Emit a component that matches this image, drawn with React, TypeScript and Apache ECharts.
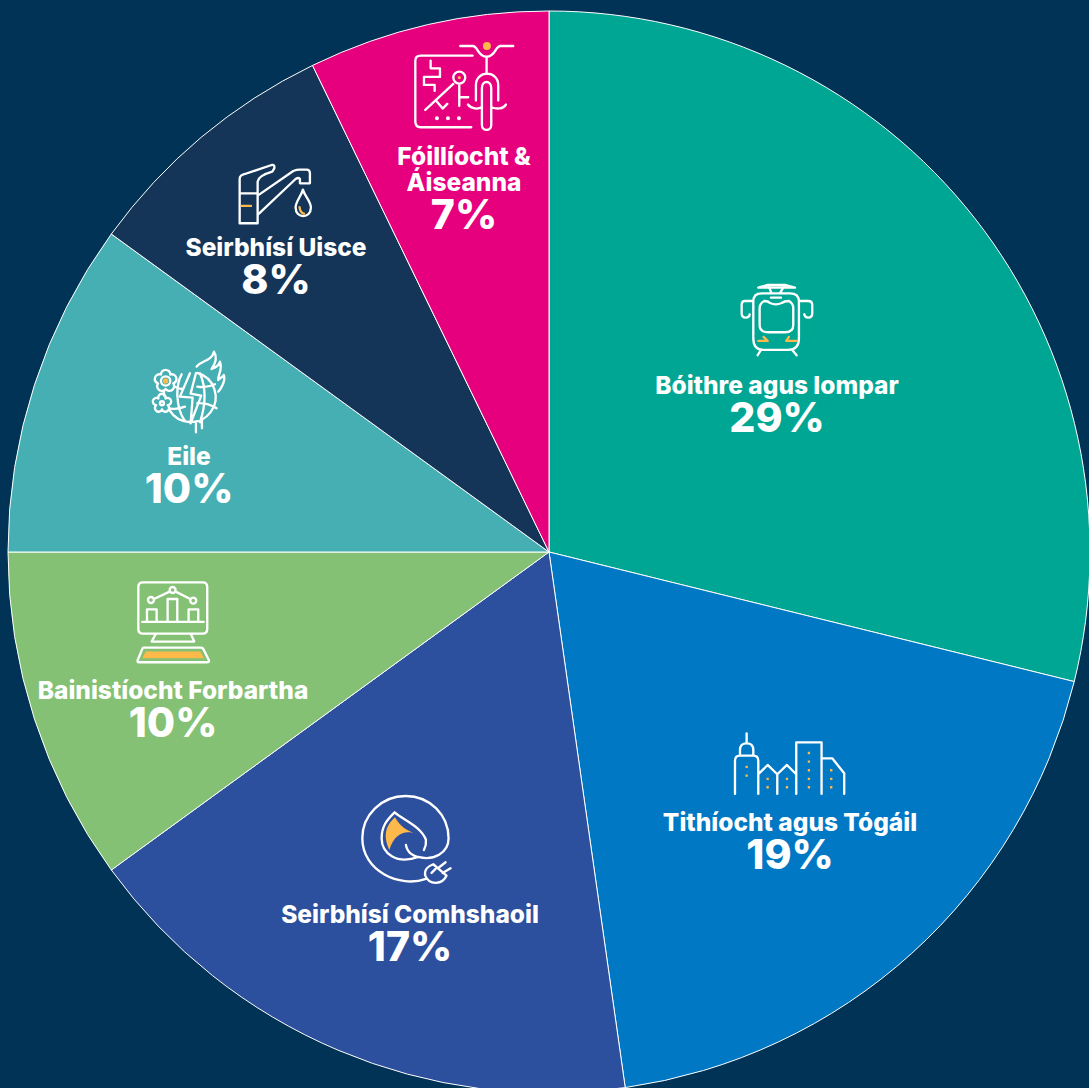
import React, { useEffect, useRef } from "react";
import * as echarts from "echarts";

const categories = [
  "Bóithre agus Iompar",
  "Tithíocht agus Tógáil",
  "Seirbhísí Comhshaoil",
  "Bainistíocht Forbartha",
  "Eile",
  "Seirbhísí Uisce",
  "Fóillíocht &\nÁiseanna",
];
const shares = [28.85, 18.9, 17.25, 10, 10, 7.8, 7.2];
const sliceColors = ["#00a694", "#0078c4", "#2c4f9e", "#84c174", "#45afb4", "#143558", "#e6007e"];
const labelCentres = [
  [777, 404],
  [790, 841],
  [410, 933],
  [173, 709],
  [189, 475],
  [276, 266],
  [464, 188],
];

const WHITE = "#ffffff";
const ORANGE = "#fdb94a";

function flower(cx: number, cy: number, R: number, r: number) {
  let d = "";
  for (let i = 0; i <= 5; i++) {
    const a = -Math.PI / 2 + Math.PI / 5 + (i * 2 * Math.PI) / 5;
    const x = (cx + R * Math.cos(a)).toFixed(1);
    const y = (cy + R * Math.sin(a)).toFixed(1);
    d += i === 0 ? `M${x} ${y}` : ` A${r} ${r} 0 1 1 ${x} ${y}`;
  }
  return d;
}
function dot(cx: number, cy: number, r: number) {
  return `M${cx - r} ${cy} A${r} ${r} 0 1 1 ${cx + r} ${cy} A${r} ${r} 0 1 1 ${cx - r} ${cy} Z`;
}
function square(cx: number, cy: number, s: number) {
  return `M${cx - s} ${cy - s} H${cx + s} V${cy + s} H${cx - s} Z`;
}

// Each icon: drawn in 3x local coordinates, placed at an offset
const icons = [
  {
    name: "bike", x: 400, y: 30,
    line:
      "M218 77 H62 Q46 77 46 93 V275 Q46 292 62 292 H214 " +
      "M92 92 V115 H120 V141 H72 V165 H104 V183 M76 240 L160 162 M108 212 L128 236 L142 222 " +
      dot(178, 143, 18) + " M178 162 V228 M178 202 H205 " +
      "M181 48 H218 C235 48 232 80 260 80 C288 80 285 48 302 48 H340 M260 80 V132 " +
      "M228 212 V165 C228 120 295 120 295 165 V212 " +
      "M246 175 C246 150 274 150 274 175 V285 C274 305 246 305 246 285 Z " +
      "M204 224 C215 238 235 238 245 232 M275 232 C290 238 310 238 318 224",
    whiteFill: dot(111, 265, 6) + dot(144, 265, 6) + dot(177, 265, 6),
    orangeFill: dot(261, 48, 12) + dot(178, 143, 5),
  },
  {
    name: "tap", x: 225, y: 155,
    line:
      "M44 72 C44 62 50 60 60 57 L140 30 Q150 28 148 40 L142 50 Q100 62 98 80 V205 H44 Z M44 115 H98 " +
      "M98 122 L205 48 Q215 44 225 44 H245 Q255 44 255 55 V85 H225 V72 Q222 66 212 72 L98 180 " +
      "M234 104 C228 125 212 140 212 158 C212 192 258 192 258 158 C258 140 240 125 234 104 Z",
    orangeLine: "M50 153 H78 M224 157 C225 168 230 174 237 176",
  },
  {
    name: "train", x: 725, y: 275,
    line:
      "M85 80 Q85 55 110 55 H195 Q222 55 222 80 V190 Q222 225 190 225 H115 Q85 225 85 190 Z " +
      "M104 100 Q104 85 118 78 Q130 78 135 84 Q153 92 170 84 Q178 78 192 78 Q205 85 205 100 V150 Q205 172 180 172 H130 Q104 172 104 150 Z " +
      "M138 68 H168 M100 38 H210 M128 30 H180 M100 38 L128 30 M210 38 L180 30 M130 32 L140 55 M178 32 L165 55 " +
      "M85 78 H60 Q50 78 50 90 V115 Q50 128 62 128 Q74 128 74 118 " +
      "M222 78 H250 Q262 78 262 90 V115 Q262 128 250 128 Q240 128 238 118 " +
      "M108 225 L98 241 M202 225 L215 241",
    orangeLine: "M116 186 L128 198 H100 M192 186 L184 198 H214",
  },
  {
    name: "globe", x: 140, y: 345,
    line:
      "M172 84 A75 75 0 1 1 88 195 M125 88 Q112 110 112 150 Q114 200 135 228 " +
      "M150 85 L120 155 L158 158 L152 235 L184 152 L152 146 L168 85 " +
      "M180 85 Q208 150 180 232 M172 125 Q200 130 225 118 M172 175 Q200 172 230 190 " +
      "M90 190 Q110 195 135 185 M105 125 Q120 135 130 130 M186 225 V250 M168 235 V262 " +
      "M170 65 C185 45 215 50 222 20 C235 40 222 62 215 72 C225 68 238 60 240 50 C250 75 232 90 235 105 C240 100 250 95 252 90 C258 110 240 135 235 140 " +
      flower(77, 108, 24, 14) + " " + dot(77, 108, 14) + " " +
      flower(66, 175, 18, 11) + " " + dot(66, 175, 6) + " M72 138 V152",
    orangeFill: dot(77, 108, 8),
  },
  {
    name: "monitor", x: 125, y: 575,
    line:
      "M54 22 H233 Q247 22 247 36 V162 Q247 176 233 176 H54 Q40 176 40 162 V36 Q40 22 54 22 Z M52 141 H236 " +
      "M66 141 V103 H95 V141 M128 141 V72 H157 V141 M191 141 V103 H220 V141 " +
      dot(78, 75, 9) + " " + dot(143, 45, 9) + " " + dot(205, 77, 9) + " M87 72 L134 50 M152 50 L196 72 " +
      "M92 178 L80 200 H208 L198 178 " +
      "M56 218 H228 Q234 218 236 224 L252 256 Q254 262 246 262 H42 Q36 262 38 256 L52 222 Q53 218 56 218 Z",
    orangeFill: "M62 230 H226 L238 250 H52 Z",
  },
  {
    name: "plug", x: 350, y: 785,
    line:
      "M228 282 C150 310 37 260 37 160 C37 90 95 33 167 33 C240 33 296 90 296 160 C296 205 250 228 205 216 " +
      "M205 216 C140 240 95 205 95 160 C95 125 110 105 134 82 C160 105 215 125 228 165 Q230 180 222 195 " +
      "M168 180 C172 205 190 212 205 217 " +
      "M250 238 L290 272 C278 300 238 302 226 272 C222 255 235 243 250 238 Z M264 250 L287 232 M278 264 L302 250 M245 264 L257 252",
    orangeFill: "M135 97 C150 125 175 140 200 147 C170 135 135 140 118 195 C110 175 92 135 135 97 Z",
  },
  {
    name: "city", x: 725, y: 725,
    line:
      "M65 25 V55 M45 90 V75 Q45 55 65 55 Q85 55 85 75 V90 M30 207 V108 Q30 92 45 92 H85 Q100 92 100 108 V207 " +
      "M100 148 L128 120 L157 148 L186 120 L214 148 M157 148 V207 M214 207 V52 H290 V207 M290 100 H322 L358 145 V207",
    orangeFill: [
      [65, 126], [65, 152], [128, 162], [128, 187], [186, 162], [186, 187],
      [252, 84], [252, 110], [252, 136], [252, 162], [252, 187], [319, 136], [319, 162], [319, 187],
    ].map(([a, b]) => square(a, b, 3.5)).join(" "),
  },
];

function iconGraphics() {
  const out: any[] = [];
  const layers: [string, any][] = [
    ["line", { fill: "none", stroke: WHITE, lineWidth: 7, lineJoin: "round", lineCap: "round" }],
    ["whiteFill", { fill: WHITE }],
    ["orangeFill", { fill: ORANGE }],
    ["orangeLine", { fill: "none", stroke: ORANGE, lineWidth: 7, lineJoin: "round", lineCap: "round" }],
  ];
  icons.forEach((ic: any) => {
    layers.forEach(([key, style]) => {
      if (!ic[key]) return;
      const shape = `${ic.name}-${key}`;
      echarts.graphic.registerShape(shape, echarts.graphic.extendPath(ic[key], {}));
      out.push({ type: shape, x: ic.x, y: ic.y, scaleX: 1 / 3, scaleY: 1 / 3, z: 20, silent: true, style });
    });
  });
  return out;
}

export default function App() {
  const ref = useRef<HTMLDivElement>(null);
  useEffect(() => {
    document.body.style.margin = "0";
    const chart = echarts.init(ref.current!, undefined, { renderer: "svg" });
    chart.setOption({
      animation: false,
      backgroundColor: "#003356",
      graphic: { elements: iconGraphics() },
      series: [
        {
          type: "pie",
          center: [549, 552],
          radius: [0, 541],
          startAngle: 90,
          clockwise: true,
          avoidLabelOverlap: false,
          silent: true,
          itemStyle: { borderColor: WHITE, borderWidth: 1 },
          labelLine: { show: false },
          label: {
            show: true,
            position: "inside",
            align: "center",
            verticalAlign: "middle",
            fontFamily: "Inter",
            formatter: (p: any) => {
              const lines = String(p.name).split("\n").map((l) => `{name|${l}}`);
              return [...lines, `{pct|${Math.round(p.value)}%}`].join("\n");
            },
            rich: {
              name: { fontFamily: "Inter", fontWeight: 800, fontSize: 24.5, lineHeight: 26, color: WHITE, align: "center" },
              pct: { fontFamily: "Inter", fontWeight: 800, fontSize: 41, lineHeight: 38, color: WHITE, align: "center" },
            },
          },
          labelLayout: (p: any) => ({
            x: labelCentres[p.dataIndex][0],
            y: labelCentres[p.dataIndex][1],
            align: "center",
            verticalAlign: "middle",
          }),
          data: categories.map((name, i) => ({
            name,
            value: shares[i],
            itemStyle: { color: sliceColors[i] },
          })),
        },
      ],
    });
    return () => chart.dispose();
  }, []);
  return <div ref={ref} style={{ width: 1089, height: 1088 }} />;
}
